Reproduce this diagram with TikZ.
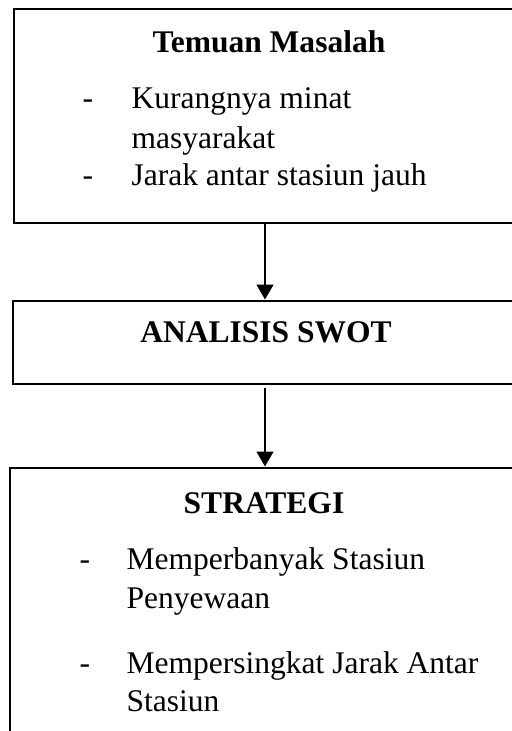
\documentclass[tikz,border=0pt]{standalone}
\usepackage{fontspec}
\setmainfont{Liberation Serif}
\usetikzlibrary{positioning,fit,arrows.meta}

\begin{document}
\begin{tikzpicture}[x=0.387pt,y=-0.387pt,
    every node/.style={font=\fontsize{12.2pt}{14pt}\selectfont},
    kotak/.style={draw,line width=1.15pt,inner sep=0pt},
    judul/.style={font=\fontsize{12.2pt}{14pt}\selectfont\bfseries,anchor=base},
    butir/.style={anchor=base west,inner sep=0pt},
    panah/.style={line width=0.8pt,-{Triangle[width=6.5pt,length=5.8pt]}}]
    \useasboundingbox (0,0) rectangle (512,731);
    % kotak
    \node[kotak,fit={(14,9) (516,223)}] (masalah) {};
    \node[kotak,fit={(13,301) (517,384)}] (swot) {};
    \node[kotak,fit={(10,468) (520,780)}] (strategi) {};
    % judul
    \node[judul] (judulmasalah) at (269,52) {Temuan Masalah};
    \node[judul] (judulswot) at (266,342) {ANALISIS SWOT};
    \node[judul] (judulstrategi) at (264,513) {STRATEGI};
    % butir masalah
    \node[butir] (dash1) at (82,108) {-};
    \node[butir] (m1) at (131,108) {Kurangnya minat};
    \node[butir] (m1b) at (131,148) {masyarakat};
    \node[butir] (dash2) at (82,185) {-};
    \node[butir] (m2) at (131,185) {Jarak antar stasiun jauh};
    % butir strategi
    \node[butir] (dash3) at (79,569) {-};
    \node[butir] (s1) at (126,569) {Memperbanyak Stasiun};
    \node[butir] (s1b) at (126,608) {Penyewaan};
    \node[butir] (dash4) at (79,673) {-};
    \node[butir] (s2) at (126,673) {Mempersingkat Jarak Antar};
    \node[butir] (s2b) at (126,711) {Stasiun};
    % panah
    \draw[panah] (masalah) -- (swot);
    \draw[panah] (swot.south) ++(0,3) -- (strategi.north);
\end{tikzpicture}
\end{document}
